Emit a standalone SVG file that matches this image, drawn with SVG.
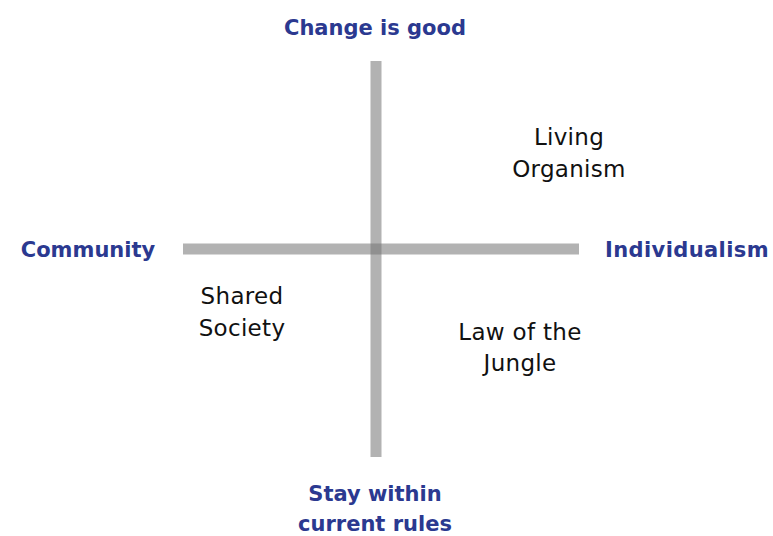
<svg xmlns="http://www.w3.org/2000/svg" width="773" height="536" viewBox="0 0 773 536">
  <style>
    .axis { stroke: #757575; stroke-opacity: 0.56; stroke-width: 11; fill: none; }
    .pole { font-family: "DejaVu Sans", Verdana, sans-serif; font-weight: bold; font-size: 21px; fill: #2b3990; text-anchor: middle; }
    .quad { font-family: "DejaVu Sans", Verdana, sans-serif; font-size: 23px; letter-spacing: 0.3px; fill: #111111; text-anchor: middle; }
  </style>
  <rect width="773" height="536" fill="#ffffff"/>

  <!-- crossing axes -->
  <g id="axes">
    <line class="axis" x1="376" y1="61" x2="376" y2="457"/>
    <line class="axis" x1="183" y1="249" x2="579" y2="249"/>
  </g>

  <!-- axis pole labels -->
  <g id="pole-top"><text class="pole" x="375" y="35">Change is good</text></g>
  <g id="pole-left"><text class="pole" x="88" y="257">Community</text></g>
  <g id="pole-right"><text class="pole" x="687" y="257" letter-spacing="0.4">Individualism</text></g>
  <g id="pole-bottom">
    <text class="pole" x="375" y="501">Stay within</text>
    <text class="pole" x="375" y="531">current rules</text>
  </g>

  <!-- quadrant labels -->
  <g id="quad-living-organism">
    <text class="quad" x="569" y="145">Living</text>
    <text class="quad" x="569" y="177">Organism</text>
  </g>
  <g id="quad-shared-society">
    <text class="quad" x="242" y="304">Shared</text>
    <text class="quad" x="242" y="336">Society</text>
  </g>
  <g id="quad-law-of-the-jungle">
    <text class="quad" x="520" y="340">Law of the</text>
    <text class="quad" x="520" y="371">Jungle</text>
  </g>
</svg>
